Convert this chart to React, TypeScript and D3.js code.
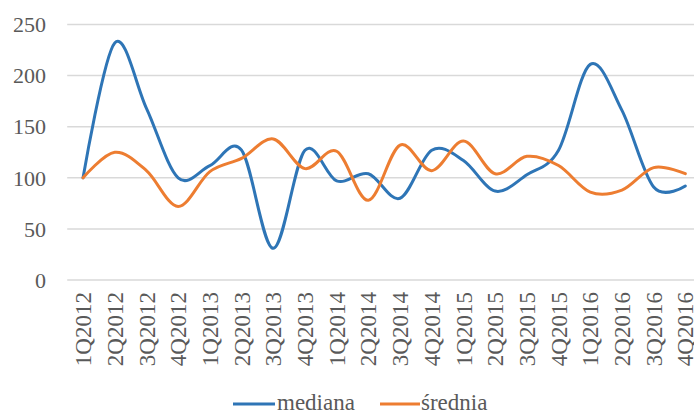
import React from "react";
import * as d3 from "d3";

const categories = [
  "1Q2012", "2Q2012", "3Q2012", "4Q2012",
  "1Q2013", "2Q2013", "3Q2013", "4Q2013",
  "1Q2014", "2Q2014", "3Q2014", "4Q2014",
  "1Q2015", "2Q2015", "3Q2015", "4Q2015",
  "1Q2016", "2Q2016", "3Q2016", "4Q2016",
];
const mediana = [100, 232, 168, 100, 112, 127, 31, 127, 97, 104, 80, 127, 117, 87, 103, 127, 211, 166, 91, 92];
const srednia = [100, 125, 107, 72, 106, 119, 138, 109, 126, 78, 132, 107, 136, 104, 121, 112, 86, 88, 110, 104];
const yTicks = [0, 50, 100, 150, 200, 250];
const seriesNames = ["mediana", "średnia"];

const W = 694;
const H = 412;
const TEXT = "#595959";
const COLORS = ["#2E75B6", "#ED7D31"];

export default function App() {
  const x = d3.scaleBand<string>().domain(categories).range([67.2, 701.2]).padding(0);
  const y = d3.scaleLinear().domain([0, 250]).range([280, 24.5]);
  const cx = (c: string) => (x(c) as number) + x.bandwidth() / 2;
  const line = d3
    .line<number>()
    .x((_, i) => cx(categories[i]))
    .y((v) => y(v))
    .curve(d3.curveCardinal.tension(0));
  const series = [mediana, srednia];

  return (
    <svg
      width={W}
      height={H}
      fontFamily="serif"
      style={{ position: "fixed", left: 0, top: 0, display: "block", background: "#fff", fontFamily: "serif" }}
    >
      {yTicks.map((t) => (
        <g key={t}>
          <line x1={67.2} x2={701} y1={y(t)} y2={y(t)} stroke="#d9d9d9" strokeWidth={1.5} />
          <text x={46} y={y(t)} dy="0.35em" textAnchor="end" fontFamily="serif" fontSize={22} fill={TEXT}>
            {t}
          </text>
        </g>
      ))}
      {categories.map((c) => (
        <text
          key={c}
          transform={`translate(${cx(c)},292) rotate(-90)`}
          dy="0.35em"
          textAnchor="end"
          fontFamily="serif"
          fontSize={23}
          fill={TEXT}
        >
          {c}
        </text>
      ))}
      {series.map((s, i) => (
        <path
          key={i}
          d={line(s) || ""}
          fill="none"
          stroke={COLORS[i]}
          strokeWidth={3}
          strokeLinecap="round"
          strokeLinejoin="round"
        />
      ))}
      <g>
        <line x1={233} x2={275} y1={404} y2={404} stroke={COLORS[0]} strokeWidth={3} />
        <text x={277} y={410} fontFamily="serif" fontSize={23} fill={TEXT}>
          {seriesNames[0]}
        </text>
        <line x1={380} x2={420} y1={404} y2={404} stroke={COLORS[1]} strokeWidth={3} />
        <text x={421} y={410} fontFamily="serif" fontSize={23} fill={TEXT}>
          {seriesNames[1]}
        </text>
      </g>
    </svg>
  );
}
